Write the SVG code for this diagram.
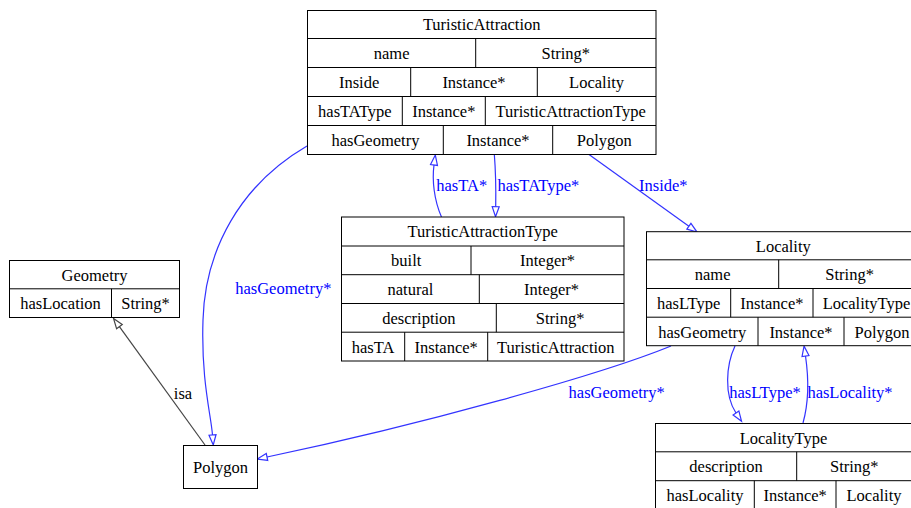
<svg xmlns="http://www.w3.org/2000/svg" width="911" height="508" viewBox="0 0 911 508">
<style>
  .bg{fill:#ffffff}
  .box{fill:#ffffff;stroke:#000;stroke-width:1}
  .ln{stroke:#000;stroke-width:1;fill:none}
  .t{font-family:"Liberation Serif","Times New Roman",serif;font-size:16.5px;fill:#000;text-anchor:middle}
  .el{font-family:"Liberation Serif","Times New Roman",serif;font-size:16.5px;fill:#0000ff;text-anchor:middle}
  .e{fill:none;stroke:#3333ff;stroke-width:1.2}
  .isa{fill:none;stroke:#444;stroke-width:1.2}
</style>
<defs>
  <marker id="ab" markerUnits="userSpaceOnUse" markerWidth="12" markerHeight="9" refX="0" refY="3.5" orient="auto" overflow="visible">
    <path d="M0,0 L10,3.5 L0,7 Z" fill="none" stroke="#3333ff" stroke-width="1.2"/>
  </marker>
  <marker id="ag" markerUnits="userSpaceOnUse" markerWidth="12" markerHeight="9" refX="0" refY="3.5" orient="auto" overflow="visible">
    <path d="M0,0 L10,3.5 L0,7 Z" fill="none" stroke="#444" stroke-width="1.2"/>
  </marker>
</defs>
<rect class="bg" x="0" y="0" width="911" height="508"/>

<g id="edges">
  <path class="isa" d="M205,445 L119.4,326.6" marker-end="url(#ag)"/>
  <path class="e" d="M307,146 C240,185 205,250 203,320 C201,380 211,415 212.5,435" marker-end="url(#ab)"/>
  <path class="e" d="M441.5,217 C434,200 432,180 434,165" marker-end="url(#ab)"/>
  <path class="e" d="M494.3,154 C496,175 496,190 495.7,206.7" marker-end="url(#ab)"/>
  <path class="e" d="M588.3,154 L688.9,226.2" marker-end="url(#ab)"/>
  <path class="e" d="M671,346 C600,375 420,425 267,457" marker-end="url(#ab)"/>
  <path class="e" d="M735,346 C726,365 724,395 736,413" marker-end="url(#ab)"/>
  <path class="e" d="M803,423 C808,405 809,380 805.5,356" marker-end="url(#ab)"/>
  <text class="t" x="183" y="398.5">isa</text>
  <text class="el" x="283.3" y="294">hasGeometry*</text>
  <text class="el" x="461.7" y="190.5">hasTA*</text>
  <text class="el" x="538.3" y="190.5">hasTAType*</text>
  <text class="el" x="663.3" y="190.5">Inside*</text>
  <text class="el" x="616.7" y="397.5">hasGeometry*</text>
  <text class="el" x="765" y="397.5">hasLType*</text>
  <text class="el" x="850" y="397.5">hasLocality*</text>
</g>

<g id="TuristicAttraction">
  <rect class="box" x="307.5" y="10.5" width="348.5" height="144"/>
  <path class="ln" d="M307.5,38.5 H656 M307.5,67.5 H656 M307.5,96.5 H656 M307.5,125.5 H656
    M475.7,38.5 V67.5 M410.7,67.5 V96.5 M537.3,67.5 V96.5 M402.3,96.5 V125.5 M485.3,96.5 V125.5 M443.3,125.5 V154.5 M552.7,125.5 V154.5"/>
  <text class="t" x="481.7" y="30">TuristicAttraction</text>
  <text class="t" x="391.6" y="59">name</text>
  <text class="t" x="565.8" y="59">String*</text>
  <text class="t" x="359.1" y="88">Inside</text>
  <text class="t" x="474" y="88">Instance*</text>
  <text class="t" x="596.6" y="88">Locality</text>
  <text class="t" x="354.9" y="117">hasTAType</text>
  <text class="t" x="443.8" y="117">Instance*</text>
  <text class="t" x="570.6" y="117">TuristicAttractionType</text>
  <text class="t" x="375.4" y="146">hasGeometry</text>
  <text class="t" x="498" y="146">Instance*</text>
  <text class="t" x="604.3" y="146">Polygon</text>
</g>

<g id="TuristicAttractionType">
  <rect class="box" x="341.5" y="217" width="282.5" height="144"/>
  <path class="ln" d="M341.5,246 H624 M341.5,274.7 H624 M341.5,303.5 H624 M341.5,332.2 H624
    M471,246 V274.7 M479.3,274.7 V303.5 M496.3,303.5 V332.2 M404.7,332.2 V361 M487.7,332.2 V361"/>
  <text class="t" x="482.7" y="237">TuristicAttractionType</text>
  <text class="t" x="406.2" y="266">built</text>
  <text class="t" x="547.5" y="266">Integer*</text>
  <text class="t" x="410.4" y="295">natural</text>
  <text class="t" x="551.6" y="295">Integer*</text>
  <text class="t" x="418.9" y="323.5">description</text>
  <text class="t" x="560.1" y="323.5">String*</text>
  <text class="t" x="373.1" y="352.5">hasTA</text>
  <text class="t" x="446.2" y="352.5">Instance*</text>
  <text class="t" x="555.8" y="352.5">TuristicAttraction</text>
</g>

<g id="Locality">
  <rect class="box" x="646.5" y="231.7" width="274" height="114"/>
  <path class="ln" d="M646.5,259.8 H921 M646.5,288.5 H921 M646.5,317.2 H921
    M778.7,259.8 V288.5 M730.7,288.5 V317.2 M813,288.5 V317.2 M758,317.2 V345.7 M844,317.2 V345.7"/>
  <text class="t" x="783.3" y="251.5">Locality</text>
  <text class="t" x="712.6" y="280">name</text>
  <text class="t" x="849.6" y="280">String*</text>
  <text class="t" x="688.6" y="309">hasLType</text>
  <text class="t" x="771.9" y="309">Instance*</text>
  <text class="t" x="866.5" y="309">LocalityType</text>
  <text class="t" x="702.3" y="337.5">hasGeometry</text>
  <text class="t" x="801" y="337.5">Instance*</text>
  <text class="t" x="882" y="337.5">Polygon</text>
</g>

<g id="LocalityType">
  <rect class="box" x="655.5" y="423.5" width="257" height="90"/>
  <path class="ln" d="M655.5,451.8 H912 M655.5,480.7 H912
    M796.7,451.8 V480.7 M754.3,480.7 V510 M836,480.7 V510"/>
  <text class="t" x="783.5" y="443.5">LocalityType</text>
  <text class="t" x="726" y="472">description</text>
  <text class="t" x="854.3" y="472">String*</text>
  <text class="t" x="705" y="500.5">hasLocality</text>
  <text class="t" x="795.2" y="500.5">Instance*</text>
  <text class="t" x="874" y="500.5">Locality</text>
</g>

<g id="Geometry">
  <rect class="box" x="9.5" y="260.5" width="170" height="57"/>
  <path class="ln" d="M9.5,288.8 H179.5 M111.5,288.8 V317.5"/>
  <text class="t" x="94.5" y="280.5">Geometry</text>
  <text class="t" x="60.5" y="309">hasLocation</text>
  <text class="t" x="145.5" y="309">String*</text>
</g>

<g id="Polygon">
  <rect class="box" x="183.5" y="445.5" width="74" height="43"/>
  <text class="t" x="220.5" y="472.5">Polygon</text>
</g>
</svg>
